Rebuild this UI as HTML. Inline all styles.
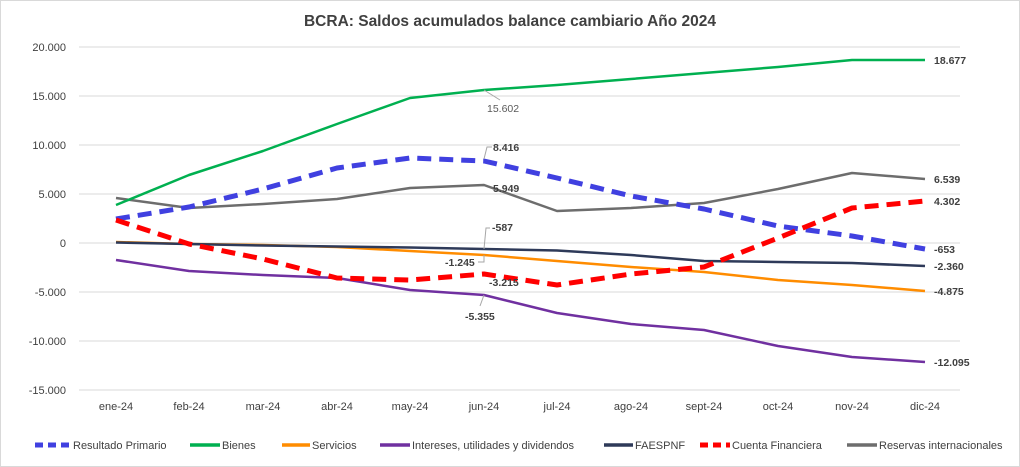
<!DOCTYPE html>
<html><head><meta charset="utf-8"><style>
body{margin:0;background:#fff;}
svg{display:block;font-family:"Liberation Sans",sans-serif;}
</style></head><body>
<svg width="1020" height="467" viewBox="0 0 1020 467">
<rect x="0.5" y="0.5" width="1019" height="466" fill="#fff" stroke="#d9d9d9"/>
<text x="510" y="26" text-anchor="middle" font-size="15.5" font-weight="bold" fill="#404040">BCRA: Saldos acumulados balance cambiario Año 2024</text>
<g stroke="#d9d9d9" stroke-width="1">
<line x1="79" x2="960" y1="47" y2="47"/><line x1="79" x2="960" y1="96" y2="96"/><line x1="79" x2="960" y1="145" y2="145"/><line x1="79" x2="960" y1="194" y2="194"/><line x1="79" x2="960" y1="243" y2="243"/><line x1="79" x2="960" y1="292" y2="292"/><line x1="79" x2="960" y1="341" y2="341"/><line x1="79" x2="960" y1="390" y2="390"/>
</g>
<g font-size="11" fill="#404040" text-anchor="end">
<text x="66" y="51">20.000</text><text x="66" y="100">15.000</text><text x="66" y="149">10.000</text><text x="66" y="198">5.000</text><text x="66" y="247">0</text><text x="66" y="296">-5.000</text><text x="66" y="345">-10.000</text><text x="66" y="394">-15.000</text>
</g>
<g font-size="11" fill="#404040" text-anchor="middle">
<text x="116" y="410">ene-24</text><text x="189" y="410">feb-24</text><text x="263" y="410">mar-24</text><text x="337" y="410">abr-24</text><text x="410" y="410">may-24</text><text x="484" y="410">jun-24</text><text x="557" y="410">jul-24</text><text x="631" y="410">ago-24</text><text x="704" y="410">sept-24</text><text x="778" y="410">oct-24</text><text x="852" y="410">nov-24</text><text x="925" y="410">dic-24</text>
</g>
<g fill="none" stroke-linejoin="round">
<polyline stroke="#ff8c00" stroke-width="2.5" points="116,242 189,244 263,245 337,247 410,251 484,255 557,261 631,267 704,272 778,280 852,285 925,291"/>
<polyline stroke="#2e3a59" stroke-width="2.5" points="116,242.5 189,244 263,245.5 337,246.5 410,247.5 484,249 557,250.5 631,255 704,261 778,262 852,263 925,266"/>
<polyline stroke="#7030a0" stroke-width="2.5" points="116,260 189,271 263,275 337,278 410,290 484,295 557,313 631,324 704,330 778,346 852,357 925,362"/>
<polyline stroke="#6d6d6d" stroke-width="2.5" points="116,198 189,208 263,204 337,199 410,188 484,185 557,211 631,208 704,203 778,189 852,173 925,179"/>
<polyline stroke="#00b050" stroke-width="2.5" points="116,205 189,175 263,151 337,124 410,98 484,90 557,85 631,79 704,73 778,67 852,60 925,60"/>
<polyline stroke="#4040e0" stroke-width="5" stroke-dasharray="14,8" points="116,219 189,207 263,189 337,168 410,158 484,161 557,178 631,196 704,209 778,226 852,236 925,249"/>
<polyline stroke="#ff0000" stroke-width="5" stroke-dasharray="14,8" points="116,220 189,244 263,259 337,278 410,280 484,274 557,285 631,274 704,267 778,238 852,208 925,201"/>
</g>
<g stroke="#a6a6a6" fill="none" stroke-width="1">
<polyline points="484,90 500,100"/>
<polyline points="484,159 487,147 492,147"/>
<polyline points="484,249 486,228 490,228"/>
<polyline points="484,255 484,262 478,262"/>
<polyline points="484,295 480,306"/>
</g>
<g font-size="10.5" font-weight="bold" fill="#404040">
<text x="487" y="112" font-weight="normal" fill="#595959">15.602</text>
<text x="493" y="151">8.416</text>
<text x="493" y="192">5.949</text>
<text x="492" y="231">-587</text>
<text x="445" y="266">-1.245</text>
<text x="489" y="286">-3.215</text>
<text x="465" y="320">-5.355</text>
<text x="934" y="64">18.677</text>
<text x="934" y="183">6.539</text>
<text x="934" y="205">4.302</text>
<text x="934" y="253">-653</text>
<text x="934" y="270">-2.360</text>
<text x="934" y="295">-4.875</text>
<text x="934" y="366">-12.095</text>
</g>
<g stroke-width="3.5">
<line x1="35" x2="70" y1="445" y2="445" stroke="#4040e0" stroke-dasharray="8,5" stroke-width="5"/>
<line x1="190" x2="220" y1="445" y2="445" stroke="#00b050"/>
<line x1="282" x2="310" y1="445" y2="445" stroke="#ff8c00"/>
<line x1="380" x2="410" y1="445" y2="445" stroke="#7030a0"/>
<line x1="604" x2="633" y1="445" y2="445" stroke="#2e3a59"/>
<line x1="700" x2="730" y1="445" y2="445" stroke="#ff0000" stroke-dasharray="8,5" stroke-width="5"/>
<line x1="847" x2="877" y1="445" y2="445" stroke="#6d6d6d"/>
</g>
<g font-size="11" fill="#404040">
<text x="73" y="449">Resultado Primario</text>
<text x="222" y="449">Bienes</text>
<text x="312" y="449">Servicios</text>
<text x="412" y="449">Intereses, utilidades y dividendos</text>
<text x="635" y="449">FAESPNF</text>
<text x="732" y="449">Cuenta Financiera</text>
<text x="879" y="449">Reservas internacionales</text>
</g>
</svg>
</body></html>
